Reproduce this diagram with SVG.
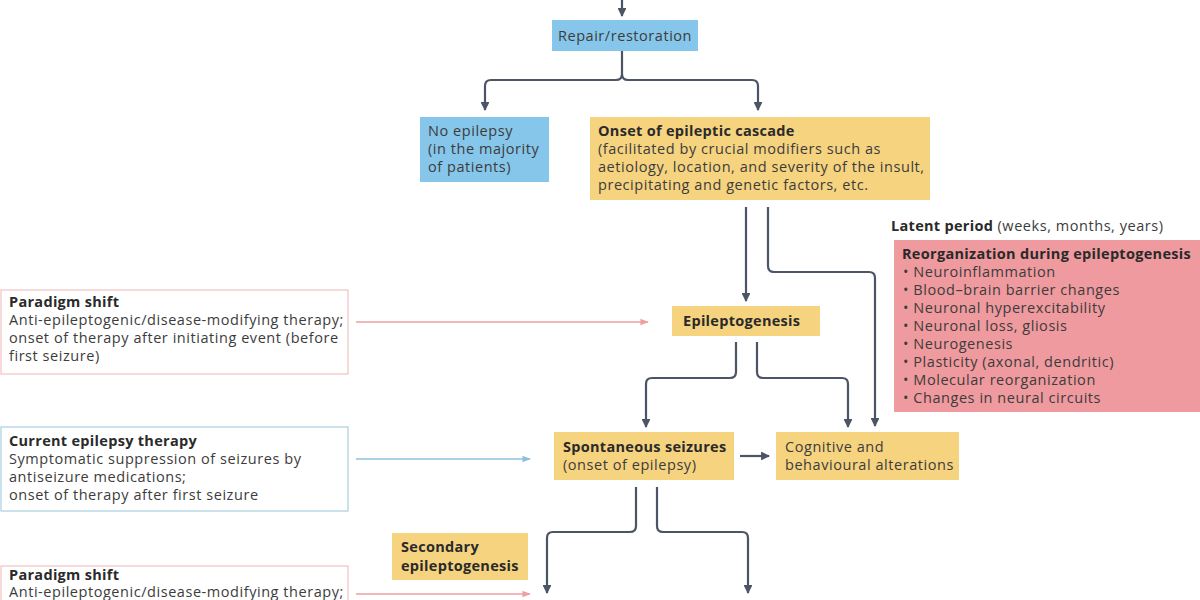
<svg xmlns="http://www.w3.org/2000/svg" width="1200" height="600" viewBox="0 0 1200 600">
<style>
text{font-family:"Open Sans","Liberation Sans",Arial,sans-serif;font-size:14.5px;letter-spacing:0.55px;fill:#3c3c3c}
.b{font-weight:bold;fill:#2a2a2a;letter-spacing:0.3px}
.blue{fill:#86c6ea}
.yel{fill:#f6d37f}
.red{fill:#ef9a9e}
.conn{fill:none;stroke:#4b5565;stroke-width:2.2}
.pk{fill:none;stroke:#eea0a0;stroke-width:1.4}
.bl{fill:none;stroke:#8cc0dc;stroke-width:1.4}
</style>
<defs>
<marker id="ah" viewBox="0 0 10 10" refX="9" refY="5" markerWidth="4" markerHeight="4" orient="auto"><path d="M0,0 L10,5 L0,10 z" fill="#4b5565"/></marker>
<marker id="ahp" viewBox="0 0 10 10" refX="9" refY="5" markerWidth="6" markerHeight="6" orient="auto"><path d="M0,1 L10,5 L0,9 z" fill="#eea0a0"/></marker>
<marker id="ahb" viewBox="0 0 10 10" refX="9" refY="5" markerWidth="6" markerHeight="6" orient="auto"><path d="M0,1 L10,5 L0,9 z" fill="#8cc0dc"/></marker>
</defs>
<rect width="1200" height="600" fill="#ffffff"/>

<g id="connectors">
<path class="conn" d="M622,0 V16" marker-end="url(#ah)"/>
<path class="conn" d="M622,51 V74 Q622,80 616,80 H491 Q485,80 485,86 V110" marker-end="url(#ah)"/>
<path class="conn" d="M622,74 Q622,80 628,80 H752 Q758,80 758,86 V110" marker-end="url(#ah)"/>
<path class="conn" d="M746,207 V301" marker-end="url(#ah)"/>
<path class="conn" d="M768,207 V266 Q768,272 774,272 H869 Q875,272 875,278 V426" marker-end="url(#ah)"/>
<path class="conn" d="M736,342 V372 Q736,378 730,378 H652 Q646,378 646,384 V427" marker-end="url(#ah)"/>
<path class="conn" d="M757,342 V372 Q757,378 763,378 H842 Q848,378 848,384 V427" marker-end="url(#ah)"/>
<path class="conn" d="M740,456 H769" marker-end="url(#ah)"/>
<path class="conn" d="M636,487 V526 Q636,532 630,532 H553 Q547,532 547,538 V593" marker-end="url(#ah)"/>
<path class="conn" d="M657,487 V526 Q657,532 663,532 H742 Q748,532 748,538 V593" marker-end="url(#ah)"/>
<path class="pk" d="M356,322 H648" marker-end="url(#ahp)"/>
<path class="bl" d="M356,459 H530" marker-end="url(#ahb)"/>
<path class="pk" d="M356,594 H530" marker-end="url(#ahp)"/>
</g>

<g id="repair">
<rect class="blue" x="552" y="20" width="146" height="31"/>
<text x="625" y="41" text-anchor="middle">Repair/restoration</text>
</g>

<g id="no-epilepsy">
<rect class="blue" x="420" y="117" width="129" height="65"/>
<text x="428" y="136">No epilepsy</text>
<text x="428" y="154">(in the majority</text>
<text x="428" y="172">of patients)</text>
</g>

<g id="onset">
<rect class="yel" x="590" y="117" width="340" height="83"/>
<text x="598" y="136" class="b">Onset of epileptic cascade</text>
<text x="598" y="154">(facilitated by crucial modifiers such as</text>
<text x="598" y="172">aetiology, location, and severity of the insult,</text>
<text x="598" y="190">precipitating and genetic factors, etc.</text>
</g>

<g id="latent">
<text x="891" y="231"><tspan class="b">Latent period</tspan> (weeks, months, years)</text>
<rect class="red" x="894" y="240" width="306" height="172"/>
<text x="902" y="259" class="b">Reorganization during epileptogenesis</text>
<text x="903" y="277">• Neuroinflammation</text>
<text x="903" y="295">• Blood–brain barrier changes</text>
<text x="903" y="313">• Neuronal hyperexcitability</text>
<text x="903" y="331">• Neuronal loss, gliosis</text>
<text x="903" y="349">• Neurogenesis</text>
<text x="903" y="367">• Plasticity (axonal, dendritic)</text>
<text x="903" y="385">• Molecular reorganization</text>
<text x="903" y="403">• Changes in neural circuits</text>
</g>

<g id="epileptogenesis">
<rect class="yel" x="672" y="306" width="148" height="30"/>
<text x="683" y="326" class="b">Epileptogenesis</text>
</g>

<g id="spontaneous">
<rect class="yel" x="554" y="432" width="180" height="48"/>
<text x="563" y="452" class="b">Spontaneous seizures</text>
<text x="563" y="470">(onset of epilepsy)</text>
</g>

<g id="cognitive">
<rect class="yel" x="776" y="432" width="183" height="48"/>
<text x="785" y="452">Cognitive and</text>
<text x="785" y="470">behavioural alterations</text>
</g>

<g id="secondary">
<rect class="yel" x="392" y="533" width="136" height="47"/>
<text x="401" y="552" class="b">Secondary</text>
<text x="401" y="571" class="b">epileptogenesis</text>
</g>

<g id="paradigm1">
<rect x="1" y="290" width="347" height="84" fill="#ffffff" stroke="#f2c2c2" stroke-width="1.2"/>
<text x="9" y="307" class="b">Paradigm shift</text>
<text x="9" y="325">Anti-epileptogenic/disease-modifying therapy;</text>
<text x="9" y="343">onset of therapy after initiating event (before</text>
<text x="9" y="361">first seizure)</text>
</g>

<g id="current">
<rect x="1" y="427" width="347" height="84" fill="#ffffff" stroke="#a8cfe2" stroke-width="1.2"/>
<text x="9" y="446" class="b">Current epilepsy therapy</text>
<text x="9" y="464">Symptomatic suppression of seizures by</text>
<text x="9" y="482">antiseizure medications;</text>
<text x="9" y="500">onset of therapy after first seizure</text>
</g>

<g id="paradigm2">
<rect x="1" y="566" width="347" height="60" fill="#ffffff" stroke="#f2c2c2" stroke-width="1.2"/>
<text x="9" y="580" class="b">Paradigm shift</text>
<text x="9" y="597">Anti-epileptogenic/disease-modifying therapy;</text>
</g>
</svg>
